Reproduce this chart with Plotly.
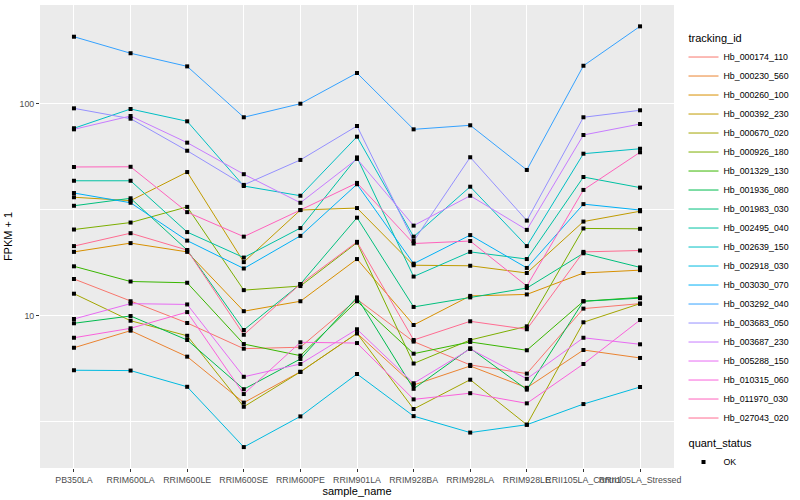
import plotly.graph_objects as go

samples = ["PB350LA", "RRIM600LA", "RRIM600LE", "RRIM600SE", "RRIM600PE", "RRIM901LA",
           "RRIM928BA", "RRIM928LA", "RRIM928LE", "RRII105LA_Control", "RRII105LA_Stressed"]

tracking_ids = ["Hb_000174_110", "Hb_000230_560", "Hb_000260_100", "Hb_000392_230", "Hb_000670_020",
                "Hb_000926_180", "Hb_001329_130", "Hb_001936_080", "Hb_001983_030", "Hb_002495_040",
                "Hb_002639_150", "Hb_002918_030", "Hb_003030_070", "Hb_003292_040", "Hb_003683_050",
                "Hb_003687_230", "Hb_005288_150", "Hb_010315_060", "Hb_011970_030", "Hb_027043_020"]

colors = ["#F8766D", "#EA8331", "#D89000", "#C09B00", "#A3A500", "#7CAE00", "#39B600", "#00BB4E",
          "#00BF7D", "#00C1A3", "#00BFC4", "#00BAE0", "#00B0F6", "#35A2FF", "#9590FF", "#C77CFF",
          "#E76BF3", "#FA62DB", "#FF62BC", "#FF6C91"]

# FPKM + 1 per sample
hb_000174_110 = [14.9, 11.7, 9.24, 6.99, 7.10, 11.95, 7.55, 5.86, 5.33, 10.8, 11.4]
hb_000230_560 = [7.06, 8.50, 6.41, 3.89, 5.44, 8.26, 4.71, 5.79, 4.57, 6.89, 6.32]
hb_000260_100 = [20.0, 22.0, 20.0, 10.5, 11.7, 18.5, 9.04, 12.4, 12.6, 15.9, 16.4]
hb_000392_230 = [36.2, 34.9, 47.6, 17.9, 31.5, 32.2, 17.3, 17.2, 15.9, 27.8, 31.1]
hb_000670_020 = [12.7, 9.47, 8.04, 3.72, 5.43, 8.26, 3.63, 4.99, 3.06, 9.31, 11.4]
hb_000926_180 = [25.5, 27.5, 32.6, 13.2, 13.8, 22.1, 5.95, 7.68, 8.91, 25.8, 25.7]
hb_001329_130 = [17.1, 14.5, 14.3, 7.35, 6.48, 11.7, 6.62, 7.52, 6.87, 11.7, 12.2]
hb_001936_080 = [9.21, 9.97, 7.68, 4.50, 6.25, 12.2, 4.52, 7.02, 4.48, 11.7, 12.1]
hb_001983_030 = [33.0, 35.8, 20.4, 8.56, 14.1, 29.0, 11.0, 12.2, 13.5, 19.7, 16.9]
hb_002495_040 = [43.3, 43.3, 24.8, 18.8, 25.9, 55.8, 15.3, 20.0, 18.5, 45.1, 40.2]
hb_002639_150 = [76.6, 94.4, 82.6, 40.9, 36.8, 69.9, 23.6, 40.6, 21.3, 58.1, 61.3]
hb_002918_030 = [5.53, 5.51, 4.62, 2.40, 3.35, 5.31, 3.36, 2.81, 3.06, 3.83, 4.61]
hb_003030_070 = [37.9, 34.1, 22.6, 16.7, 23.8, 41.7, 17.6, 24.0, 16.8, 33.6, 31.5]
hb_003292_040 = [207.0, 173.0, 150.0, 86.3, 100.0, 139.6, 75.7, 79.1, 48.7, 151.0, 231.7]
hb_003683_050 = [95.1, 85.0, 60.0, 41.4, 54.3, 78.5, 22.5, 55.9, 28.1, 86.3, 93.1]
hb_003687_230 = [75.7, 87.5, 65.5, 46.5, 34.1, 54.9, 26.6, 36.8, 25.4, 71.2, 80.2]
hb_005288_150 = [9.65, 11.4, 11.3, 5.15, 5.92, 8.63, 4.80, 6.97, 5.04, 7.87, 7.33]
hb_010315_060 = [7.87, 8.72, 10.4, 4.27, 7.49, 7.43, 4.03, 4.31, 3.86, 5.92, 9.54]
hb_011970_030 = [50.3, 50.4, 30.8, 23.6, 31.5, 42.3, 21.9, 22.5, 13.8, 39.2, 59.0]
hb_027043_020 = [21.3, 24.5, 20.4, 8.13, 14.1, 22.3, 7.68, 9.41, 8.63, 20.0, 20.3]

series_values = [hb_000174_110, hb_000230_560, hb_000260_100, hb_000392_230, hb_000670_020,
                 hb_000926_180, hb_001329_130, hb_001936_080, hb_001983_030, hb_002495_040,
                 hb_002639_150, hb_002918_030, hb_003030_070, hb_003292_040, hb_003683_050,
                 hb_003687_230, hb_005288_150, hb_010315_060, hb_011970_030, hb_027043_020]

quant_status = ["OK"]

FONT = "Liberation Sans, Arial, sans-serif"

fig = go.Figure()
for i, (tid, vals, col) in enumerate(zip(tracking_ids, series_values, colors)):
    fig.add_trace(go.Scatter(
        x=samples, y=vals, mode="lines", name=tid,
        line=dict(color=col, width=1),
        legendgroup="tracking",
        legendgrouptitle_text="tracking_id" if i == 0 else None,
    ))

pts_x = [s for vals in series_values for s in samples]
pts_y = [v for vals in series_values for v in vals]
fig.add_trace(go.Scatter(
    x=pts_x, y=pts_y, mode="markers", name=quant_status[0],
    marker=dict(symbol="square", size=4, color="black"),
    legendgroup="quant", legendgrouptitle_text="quant_status",
))

fig.update_layout(
    width=800, height=500,
    margin=dict(l=40, r=116, t=5, b=32),
    paper_bgcolor="white", plot_bgcolor="#EBEBEB",
    font=dict(family=FONT, size=11, color="black"),
    showlegend=True,
    legend=dict(
        x=1.015, xanchor="left", y=0.96, yanchor="top",
        font=dict(size=8.8, color="black"),
        grouptitlefont=dict(size=11, color="black"),
        tracegroupgap=6, bgcolor="rgba(0,0,0,0)", itemwidth=30,
    ),
    xaxis=dict(
        type="category", categoryorder="array", categoryarray=samples,
        range=[-0.6, len(samples) - 0.4],
        showgrid=True, gridcolor="white", gridwidth=1.1,
        ticks="outside", ticklen=3, tickcolor="#333333", tickwidth=1,
        tickangle=0, tickfont=dict(size=8.8, color="#4D4D4D"),
        title=dict(text="sample_name", font=dict(size=11), standoff=2),
        zeroline=False, showline=False, automargin=False,
    ),
    yaxis=dict(
        type="log", range=[0.2816, 2.4656],
        tickvals=[10, 100], ticktext=["10", "100"],
        showgrid=True, gridcolor="white", gridwidth=1.1,
        minor=dict(tickvals=[3.1623, 31.623, 316.23], showgrid=True,
                   gridcolor="white", gridwidth=0.5, ticks=""),
        ticks="outside", ticklen=3, tickcolor="#333333", tickwidth=1,
        tickfont=dict(size=8.8, color="#4D4D4D"),
        title=dict(text="FPKM + 1", font=dict(size=11), standoff=4),
        zeroline=False, showline=False, automargin=False,
    ),
)

fig.write_html("out.html", config={"displayModeBar": False},
               post_script="document.body.style.margin='0';")
